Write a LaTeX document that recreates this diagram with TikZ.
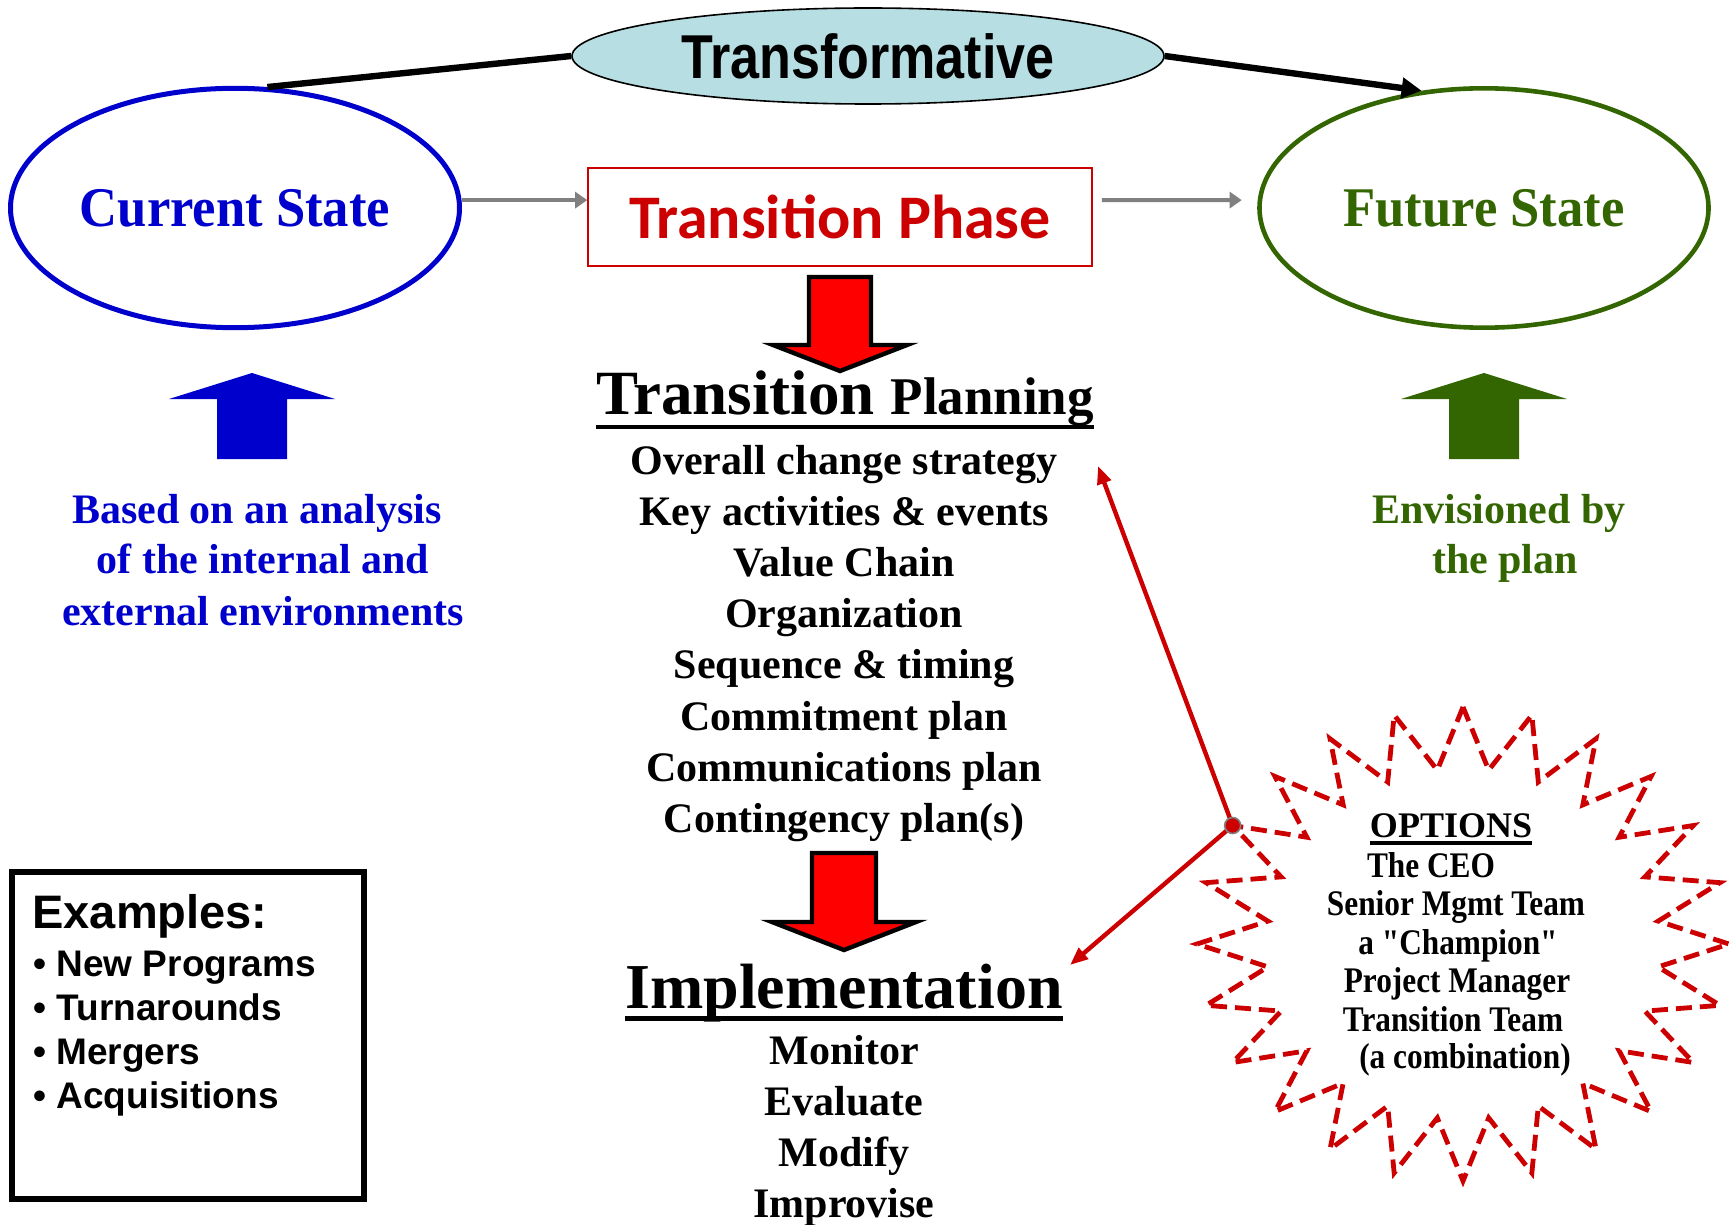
\documentclass[tikz,border=0pt]{standalone}
\usepackage{fontspec}
\setmainfont{Liberation Serif}
\newfontfamily\arialf{Liberation Sans}
\newfontfamily\narrowsans{Liberation Sans}[FakeStretch=0.84]
\newfontfamily\calibf{Carlito}
\newfontfamily\stateserif{Liberation Serif}[FakeStretch=0.94]
\newfontfamily\optserif{Liberation Serif}[FakeStretch=0.87]
\usetikzlibrary{shapes.geometric,arrows.meta,calc}
\definecolor{csblue}{HTML}{0000CC}
\definecolor{fsgreen}{HTML}{336600}
\definecolor{tred}{HTML}{CC0000}
\definecolor{ltcyan}{HTML}{B7DFE3}
\definecolor{arrred}{HTML}{FF0000}
\definecolor{midgray}{HTML}{808080}
\begin{document}
\begin{tikzpicture}[x=0.5pt,y=-0.5pt,
  statenode/.style={ellipse, inner sep=0pt, minimum width=224.5pt, minimum height=119.7pt, line width=2.5pt,
    font=\fontsize{28}{30}\selectfont\stateserif\bfseries},
  thickline/.style={line width=3.2pt, black},
  grayarrow/.style={line width=2pt, midgray, -{Triangle[length=6pt,width=8pt]}},
  redline/.style={line width=2.2pt, tred, -{Triangle[length=9pt,width=7pt]}},
  blockarrow/.style={fill=arrred, draw=black, line width=2.2pt, line join=miter},
  listtxt/.style={inner sep=0pt, anchor=base, font=\fontsize{21}{25}\selectfont\bfseries},
  headtxt/.style={inner sep=0pt, anchor=base, font=\bfseries},
  exitem/.style={inner sep=0pt, anchor=base west, font=\fontsize{18.5}{22}\selectfont\arialf\bfseries},
  opttxt/.style={inner sep=0pt, anchor=base, font=\fontsize{18}{20}\selectfont\optserif\bfseries},
  starline/.style={draw=tred, line width=2.4pt, dash pattern=on 8pt off 4pt, line join=miter},
  underl/.style={line width=2.2pt, black}
]
\useasboundingbox (0,0) rectangle (1730,1225);
\fill[white] (0,0) rectangle (1730,1225);

% main nodes
\node[statenode, draw=csblue, text=csblue] (cs) at (235,208) {Current State};
\node[statenode, draw=fsgreen, text=fsgreen, line width=2.3pt] (fs) at (1484,208) {Future State};
\node[ellipse, draw=black, line width=0.8pt, fill=ltcyan, minimum width=296pt, minimum height=48pt, inner sep=0pt,
  font=\fontsize{31}{32}\selectfont\narrowsans\bfseries] (ts) at (868,56) {Transformative};
\node[draw=tred, line width=0.8pt, minimum width=252pt, minimum height=49pt, inner sep=0pt, text=tred,
  font=\fontsize{31}{33}\selectfont\calibf\bfseries] (tp) at (840,217) {Transition Phase};

% connectors at the top
\draw[thickline] (cs.75) -- (ts.west);
\draw[thickline, -{Triangle[length=10pt,width=10pt]}] (ts.east) -- (fs.118);
\draw[grayarrow] (cs.2) -- (cs.2 -| tp.west);
\draw[grayarrow] ($(tp.east |- cs.2)+(9,0)$) -- ($(fs.178)+(-16,0)$);

% block arrows
\draw[blockarrow] (809,277) -- (871,277) -- (871,345) -- (907,345) -- (840,371) -- (773,345) -- (809,345) -- cycle;
\draw[blockarrow] (812,853) -- (876,853) -- (876,922) -- (916,922) -- (844,950) -- (772,922) -- (812,922) -- cycle;
\fill[csblue] (217,459) -- (217,399) -- (169,399) -- (252,373) -- (335,399) -- (287,399) -- (287,459) -- cycle;
\fill[fsgreen] (1449,459) -- (1449,399) -- (1401,399) -- (1484,373) -- (1567,399) -- (1519,399) -- (1519,459) -- cycle;

% side texts
\node[listtxt, text=csblue] (b1) at (257,523) {Based on an analysis};
\node[listtxt, text=csblue] (b2) at (263,573) {of the internal and};
\node[listtxt, text=csblue] (b3) at (263,625) {external environments};
\node[listtxt, text=fsgreen] (g1) at (1499,523) {Envisioned by};
\node[listtxt, text=fsgreen] (g2) at (1505,573) {the plan};

% transition planning
\node[headtxt] (tpl) at (845,415) {\fontsize{31.5}{33}\selectfont Transition \fontsize{26.5}{28}\selectfont Planning};
\draw[underl, line width=2pt] ([yshift=-6pt]tpl.base west) -- ([yshift=-6pt]tpl.base east);
\foreach \t [count=\i] in {{Overall change strategy},{Key activities \& events},{Value Chain},{Organization},{Sequence \& timing},{Commitment plan},{Communications plan},{Contingency plan(s)}}
  \node[listtxt] (pl\i) at (844,{474+51.2*(\i-1)}) {\t};

% implementation
\node[headtxt, font=\fontsize{32}{34}\selectfont\bfseries] (impl) at (844,1008) {Implementation};
\draw[underl, line width=2.5pt] ([yshift=-5pt]impl.base west) -- ([yshift=-5pt]impl.base east);
\foreach \t [count=\i] in {Monitor,Evaluate,Modify,Improvise}
  \node[listtxt] (im\i) at (844,{1064+51*(\i-1)}) {\t};

% examples box
\node[draw=black, line width=3pt, minimum width=176pt, minimum height=163.5pt, inner sep=0pt] (exbox) at (188,1035.5) {};
\node[inner sep=0pt, anchor=base west, font=\fontsize{23.5}{26}\selectfont\arialf\bfseries] (ex0) at (32,928) {Examples:};
\node[exitem] (ex1) at (33,976) {\textbullet\ New Programs};
\node[exitem] (ex2) at (33,1020) {\textbullet\ Turnarounds};
\node[exitem] (ex3) at (33,1064) {\textbullet\ Mergers};
\node[exitem] (ex4) at (33,1108) {\textbullet\ Acquisitions};

% starburst
\draw[starline] plot[variable=\k, samples at={0,...,47}]
  ({1463+266*(1-0.26*mod(\k,2))*cos(90+7.5*\k)}, {944-237*(1-0.26*mod(\k,2))*sin(90+7.5*\k)}) -- cycle;
\coordinate (dotc) at ({1463+266*cos(150)},{944-237*sin(150)});
\coordinate (a1) at (1098,466);
\coordinate (a2) at (1070,965);
\draw[redline] (dotc) -- (a1);
\draw[redline] (dotc) -- (a2);
\node[circle, fill=tred, draw=gray, line width=0.8pt, minimum size=8pt, inner sep=0pt] (dot) at (dotc) {};

% options text
\node[inner sep=0pt, anchor=base, font=\fontsize{18}{20}\selectfont\bfseries] (opt) at (1451,837) {OPTIONS};
\draw[underl, line width=1.6pt] ([yshift=-3pt]opt.base west) -- ([yshift=-3pt]opt.base east);
\node[opttxt] (o1) at (1431,877) {The CEO};
\node[opttxt] (o2) at (1456,915) {Senior Mgmt Team};
\node[opttxt] (o3) at (1458,954) {a "Champion"};
\node[opttxt] (o4) at (1457,992) {Project Manager};
\node[opttxt] (o5) at (1453,1031) {Transition Team};
\node[opttxt] (o6) at (1465,1068) {(a combination)};
\end{tikzpicture}
\end{document}
